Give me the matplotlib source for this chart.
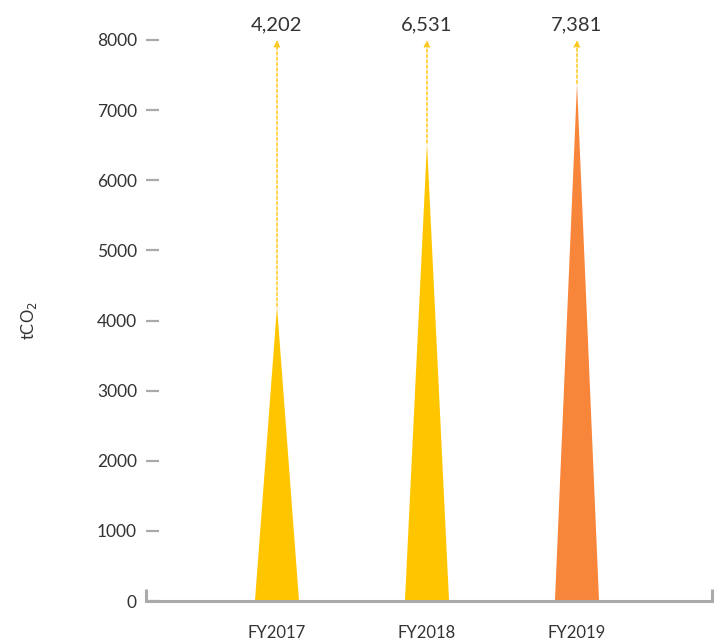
import matplotlib
matplotlib.use("Agg")
import matplotlib.pyplot as plt

years = ["FY2017", "FY2018", "FY2019"]
emissions = [4202, 6531, 7381]
colors = ["#FFC600", "#FFC600", "#F8863A"]
yticks = [0, 1000, 2000, 3000, 4000, 5000, 6000, 7000, 8000]

plt.rcParams['font.family'] = ['Lato', 'DejaVu Sans']

W, H = 716, 644
fig = plt.figure(figsize=(W / 100, H / 100), dpi=100)
# axes box in pixels: left 146, right 712, y=0 at 601, y=8000 at 40
ax = fig.add_axes([146 / W, (H - 601) / H, (712 - 146) / W, (601 - 40) / H])

half = 0.147  # half base width of the spikes
for i, (v, c) in enumerate(zip(emissions, colors)):
    ax.fill([i - half, i, i + half], [0, v, 0], color=c, lw=0)
    ax.annotate("", xy=(i, 8000), xytext=(i, v),
                arrowprops=dict(arrowstyle="-|>", ls=(0, (2, 1.5)),
                                color="#FFC81E", lw=1.1, mutation_scale=9,
                                shrinkA=0, shrinkB=0))
    ax.text(i, 8000 + 100, f"{v:,}", ha="center", va="bottom",
            fontsize=14.5, color="#333333")

ax.set_xlim(-131 / 150, 2 + 135 / 150)
ax.set_ylim(0, 8000)

ax.set_yticks(yticks)
ax.set_yticklabels([str(t) for t in yticks])
ax.set_xticks(range(len(years)))
ax.set_xticklabels(years)

ax.tick_params(axis="y", direction="in", length=9.5, width=1.6,
               color="#AAAAAA", pad=6.5, labelsize=12.5, labelcolor="#333333")
ax.tick_params(axis="x", length=0, pad=17, labelsize=12, labelcolor="#333333")

for side in ["left", "right", "top"]:
    ax.spines[side].set_visible(False)
ax.spines["bottom"].set_color("#AAAAAA")
ax.spines["bottom"].set_linewidth(2.2)

# end caps on the baseline
x0, x1 = ax.get_xlim()
ax.vlines([x0, x1], 0, 170, colors="#AAAAAA", lw=2.2, clip_on=False)

ax.set_ylabel(r"tCO$_2$", fontsize=12, color="#333333", labelpad=42)

fig.savefig("out.png", dpi=100)
